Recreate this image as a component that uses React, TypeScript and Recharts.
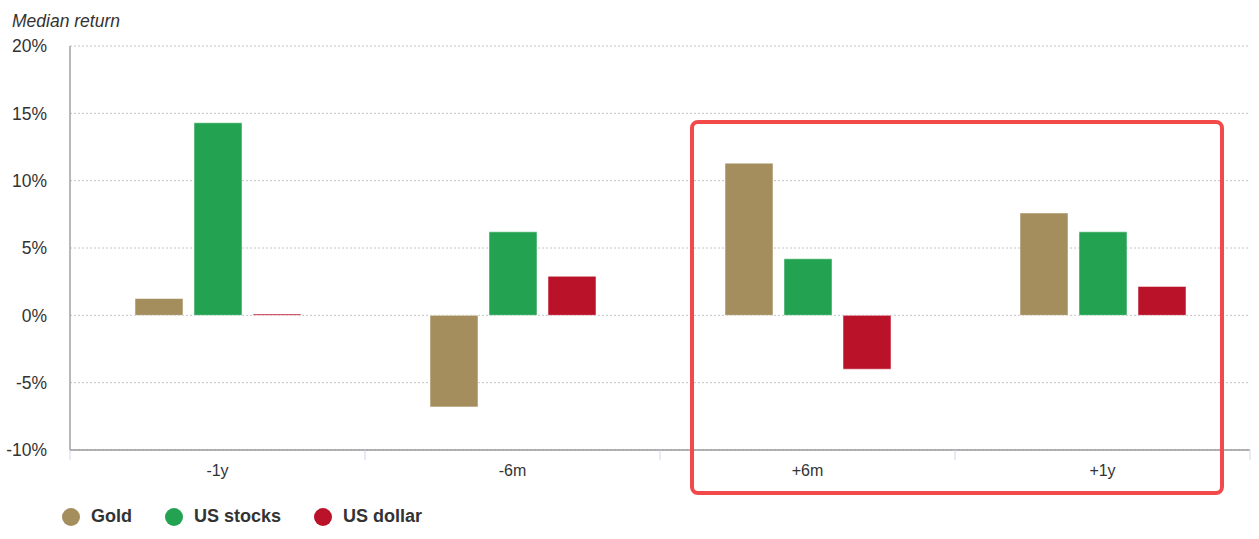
import { BarChart, Bar, XAxis, YAxis, CartesianGrid } from 'recharts'

const categories = ['-1y', '-6m', '+6m', '+1y']
const gold = [1.25, -6.8, 11.3, 7.6]
const usStocks = [14.3, 6.2, 4.2, 6.2]
const usDollar = [0.1, 2.9, -4.0, 2.15]
const yTicks = [-10, -5, 0, 5, 10, 15, 20]

const SERIES = [
  { key: 'gold', name: 'Gold', color: '#A48E5E' },
  { key: 'stocks', name: 'US stocks', color: '#23A351' },
  { key: 'dollar', name: 'US dollar', color: '#BA1229' },
]

const FONT = '"Liberation Sans", Arial, sans-serif'

const data = categories.map((c, i) => ({
  cat: c,
  gold: gold[i],
  stocks: usStocks[i],
  dollar: usDollar[i],
}))

// category label plus the small tick marks between categories
function CategoryTick(props: any) {
  const { x, y, payload, index } = props
  const o = payload?.offset ?? 0
  const last = index === categories.length - 1
  return (
    <g>
      <line x1={x - o} x2={x - o} y1={y} y2={y + 10} stroke="#ccd6eb" />
      {last && <line x1={x + o} x2={x + o} y1={y} y2={y + 10} stroke="#ccd6eb" />}
      <text x={x} y={y + 15} dy="0.71em" textAnchor="middle" fill="#333" fontSize={16} fontFamily={FONT}>
        {payload.value}
      </text>
    </g>
  )
}

export default function App() {
  return (
    <div style={{ position: 'absolute', left: 0, top: 0, width: 1259, height: 539, background: '#fff', fontFamily: FONT }}>
      <div style={{ position: 'absolute', left: 12, top: 11, fontSize: 17.5, fontStyle: 'italic', color: '#333' }}>
        Median return
      </div>
      <BarChart
        width={1259}
        height={539}
        data={data}
        margin={{ top: 46, right: 9, bottom: 49, left: 0 }}
        barSize={48}
        barGap={11}
      >
        <CartesianGrid vertical={false} stroke="#c4c4c4" strokeDasharray="2 2" />
        <XAxis
          dataKey="cat"
          axisLine={{ stroke: '#9a9a9a', strokeWidth: 1.5 }}
          tickLine={false}
          tickSize={0}
          tickMargin={0}
          height={40}
          interval={0}
          tick={<CategoryTick />}
        />
        <YAxis
          domain={[-10, 20]}
          ticks={yTicks}
          interval={0}
          width={70}
          axisLine={{ stroke: '#a0a0a0', strokeWidth: 1.5 }}
          tickLine={false}
          tickSize={0}
          tickMargin={23}
          tickFormatter={(v: number) => `${v}%`}
          tick={{ fill: '#333', fontSize: 17.5, fontFamily: FONT }}
        />
        <YAxis
          yAxisId="right"
          orientation="right"
          width={0}
          tick={false}
          tickLine={false}
          axisLine={{ stroke: '#c0c0c0' }}
        />
        {SERIES.map((s) => (
          <Bar
            key={s.key}
            dataKey={s.key}
            name={s.name}
            fill={s.color}
            stroke="#ffffff"
            strokeOpacity={0.5}
            strokeWidth={1}
            isAnimationActive={false}
          />
        ))}
      </BarChart>
      <div
        style={{
          position: 'absolute',
          left: 690,
          top: 120,
          width: 534,
          height: 375,
          boxSizing: 'border-box',
          border: '4px solid #F24A4A',
          borderRadius: 8,
        }}
      />
      <div style={{ position: 'absolute', left: 62, top: 506, display: 'flex', alignItems: 'center' }}>
        {SERIES.map((s) => (
          <div key={s.key} style={{ display: 'flex', alignItems: 'center', marginRight: 33 }}>
            <span style={{ width: 18, height: 18, borderRadius: 9, background: s.color, display: 'inline-block' }} />
            <span style={{ marginLeft: 11, fontSize: 18, fontWeight: 'bold', color: '#333' }}>{s.name}</span>
          </div>
        ))}
      </div>
    </div>
  )
}
